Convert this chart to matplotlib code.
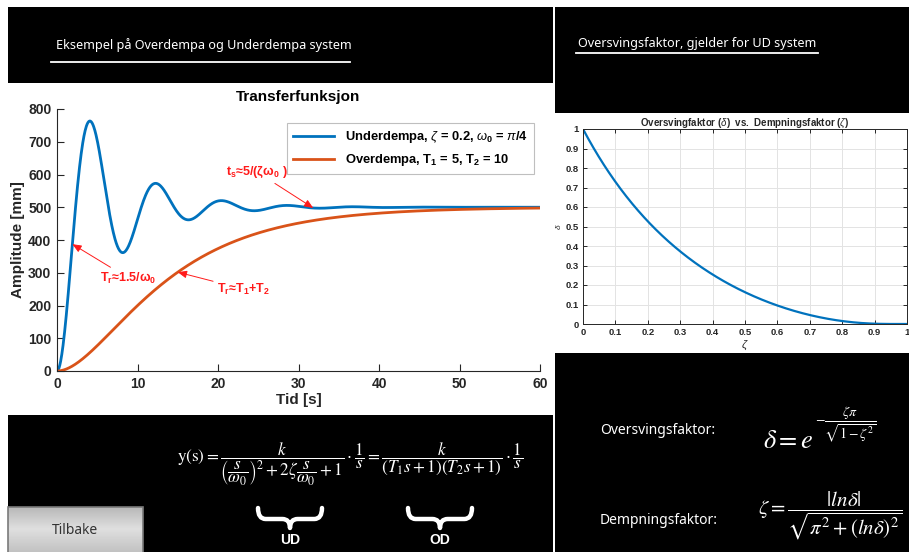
import numpy as np
import matplotlib
matplotlib.use("Agg")
import matplotlib.pyplot as plt
from matplotlib.patches import Rectangle, PathPatch
from matplotlib.path import Path

# ---- model parameters (as stated in the legend / formulas) ----
k_gain = 500
zeta_ud = 0.2
omega0 = np.pi / 4
T1, T2 = 5, 10

# time axis and step responses
t = np.linspace(0, 60, 1201)
sigma = zeta_ud * omega0
omega_d = omega0 * np.sqrt(1 - zeta_ud ** 2)
y_ud = k_gain * (1 - np.exp(-sigma * t) * (np.cos(omega_d * t) + sigma / omega_d * np.sin(omega_d * t)))
y_od = k_gain * (1 - (T1 * np.exp(-t / T1) - T2 * np.exp(-t / T2)) / (T1 - T2))

# overshoot factor vs damping factor
zeta_axis = np.linspace(0, 1, 501)
with np.errstate(divide="ignore", invalid="ignore"):
    delta = np.where(zeta_axis < 1,
                     np.exp(-zeta_axis * np.pi / np.sqrt(np.clip(1 - zeta_axis ** 2, 1e-12, None))),
                     0.0)

# characteristic times marked on the response plot
t_rise_ud = 1.5 / omega0
t_rise_od = T1 + T2
t_settle = 5 / (zeta_ud * omega0)

x_ticks_left = [0, 10, 20, 30, 40, 50, 60]
y_ticks_left = [0, 100, 200, 300, 400, 500, 600, 700, 800]
ticks_right = [0, 0.1, 0.2, 0.3, 0.4, 0.5, 0.6, 0.7, 0.8, 0.9, 1]
tick_labels_right = ["0", "0.1", "0.2", "0.3", "0.4", "0.5", "0.6", "0.7", "0.8", "0.9", "1"]

BLUE = "#0072BD"
ORANGE = "#D95319"
AXC = "#262626"

plt.rcParams["font.family"] = ["Liberation Sans", "DejaVu Sans"]
plt.rcParams["mathtext.fontset"] = "custom"
plt.rcParams["mathtext.rm"] = "Liberation Sans"
plt.rcParams["mathtext.it"] = "Liberation Sans:italic"
plt.rcParams["mathtext.bf"] = "Liberation Sans:bold"

W, H = 909, 552
fig = plt.figure(figsize=(W / 100, H / 100), dpi=100)
fig.patch.set_facecolor("white")

# ---- background layer in pixel coordinates ----
bg = fig.add_axes([0, 0, 1, 1], zorder=0)
bg.set_xlim(0, W)
bg.set_ylim(H, 0)
bg.axis("off")

for (x0, y0, x1, y1) in [(8, 7, 553, 83), (8, 415, 553, 552),
                         (555, 7, 909, 113), (555, 353, 909, 552)]:
    bg.add_patch(Rectangle((x0, y0), x1 - x0, y1 - y0, facecolor="black", edgecolor="none"))

ui_font = ["Noto Sans", "DejaVu Sans"]
bg.text(56, 45, "Eksempel på Overdempa og Underdempa system", color="white",
        fontsize=9.1, family=ui_font, va="center", ha="left")
bg.plot([51, 350], [62, 62], color="white", lw=1.3)
bg.text(578, 43, "Oversvingsfaktor, gjelder for UD system", color="white",
        fontsize=9.1, family=ui_font, va="center", ha="left")
bg.plot([576, 818], [53, 53], color="white", lw=1.3)

# transfer function
bg.text(350, 464,
        r"$\mathrm{y(s)} = \dfrac{k}{\left(\dfrac{s}{\omega_0}\right)^2+2\zeta\dfrac{s}{\omega_0}+1}\cdot\dfrac{1}{s}"
        r" = \dfrac{k}{(T_1s+1)(T_2s+1)}\cdot\dfrac{1}{s}$",
        color="white", fontsize=12.3, ha="center", va="center", math_fontfamily="stix")


def brace(xc, width, ytop, height):
    x0, x1 = xc - width / 2, xc + width / 2
    ym = ytop + height * 0.55
    q = width * 0.12
    verts = [(x0, ytop), (x0, ym), (x0 + q, ym),
             (xc - q, ym), (xc, ym), (xc, ytop + height),
             (xc, ym), (xc + q, ym),
             (x1 - q, ym), (x1, ym), (x1, ytop)]
    codes = [Path.MOVETO, Path.CURVE3, Path.CURVE3,
             Path.LINETO, Path.CURVE3, Path.CURVE3,
             Path.CURVE3, Path.CURVE3,
             Path.LINETO, Path.CURVE3, Path.CURVE3]
    bg.add_patch(PathPatch(Path(verts, codes), facecolor="none", edgecolor="white",
                           lw=3.2, capstyle="round", joinstyle="round"))


brace(290, 64, 508, 20)
brace(440, 64, 508, 20)
bg.text(290, 540, "UD", color="white", fontsize=10, fontweight="bold", ha="center", va="center")
bg.text(440, 540, "OD", color="white", fontsize=10, fontweight="bold", ha="center", va="center")

# back button with a soft vertical gradient
grad = np.concatenate([np.linspace(0.72, 0.87, 22), np.linspace(0.87, 0.76, 23)])
bg.imshow(np.repeat(grad[:, None], 4, axis=1), cmap="gray", vmin=0, vmax=1,
          extent=(8, 143, 552, 507), aspect="auto", zorder=2)
bg.add_patch(Rectangle((8, 507), 135, 46, facecolor="none", edgecolor="#7a7a7a", lw=1.2, zorder=3))
bg.text(75.5, 530, "Tilbake", color="#333333", fontsize=10, family=ui_font,
        ha="center", va="center", zorder=4)
bg.set_xlim(0, W)
bg.set_ylim(H, 0)

# right-hand formulas
bg.text(600, 430, "Oversvingsfaktor:", color="white", fontsize=10, family=ui_font, va="center")
bg.text(600, 521, "Dempningsfaktor:", color="white", fontsize=10, family=ui_font, va="center")
bg.text(763, 441, r"$\delta = e$", color="white",
        fontsize=19, ha="left", va="center", math_fontfamily="stix")
bg.text(815, 424, r"$-\dfrac{\zeta\pi}{\sqrt{1-\zeta^2}}$", color="white",
        fontsize=10, ha="left", va="center", math_fontfamily="stix")
bg.text(758, 516, r"$\zeta = \dfrac{|ln\delta|}{\sqrt{\pi^2+(ln\delta)^2}}$", color="white",
        fontsize=15, ha="left", va="center", math_fontfamily="stix")

# ---- step response chart ----
ax = fig.add_axes([57 / W, (H - 371) / H, 483 / W, 262 / H], zorder=1)
ax.plot(t, y_ud, color=BLUE, lw=2, label=r"Underdempa, $\zeta$ = 0.2, $\omega_\mathbf{0}$ = $\pi$/4")
ax.plot(t, y_od, color=ORANGE, lw=2, label=r"Overdempa, T$_\mathbf{1}$ = 5, T$_\mathbf{2}$ = 10")
ax.set_xlim(0, 60)
ax.set_ylim(0, 800)
ax.set_xticks(x_ticks_left)
ax.set_yticks(y_ticks_left)
for s in ["top", "right"]:
    ax.spines[s].set_visible(False)
for s in ["left", "bottom"]:
    ax.spines[s].set_color(AXC)
    ax.spines[s].set_linewidth(0.8)
ax.tick_params(direction="in", length=5, width=0.8, colors=AXC, labelsize=10, pad=4)
for lab in ax.get_xticklabels() + ax.get_yticklabels():
    lab.set_fontweight("bold")
ax.set_xlabel("Tid [s]", fontsize=11, fontweight="bold", color=AXC, labelpad=2)
ax.set_ylabel("Amplitude [mm]", fontsize=11, fontweight="bold", color=AXC, labelpad=2)
ax.set_title("Transferfunksjon", fontsize=11, fontweight="bold", color="black", pad=6)
leg = ax.legend(loc="upper right", bbox_to_anchor=(1.0, 0.97),
                prop={"weight": "bold", "size": 9.3}, frameon=True, fancybox=False,
                edgecolor="#b0b0b0", handlelength=3.2, borderpad=0.45, labelspacing=0.55)
leg.get_frame().set_linewidth(0.8)

arrow_kw = dict(arrowstyle="-|>,head_length=0.6,head_width=0.25", color="#ff1a1a", lw=0.7,
                shrinkA=1, shrinkB=0)
y_tr = np.interp(t_rise_ud, t, y_ud)
ax.annotate(r"T$_\mathbf{r}$≈1.5/ω$_\mathbf{0}$", xy=(t_rise_ud, y_tr), xytext=(5.4, 283),
            color="#ff1a1a", fontsize=9, fontweight="bold", ha="left", va="center",
            arrowprops=arrow_kw)
ax.annotate(r"T$_\mathbf{r}$≈T$_\mathbf{1}$+T$_\mathbf{2}$",
            xy=(t_rise_od, np.interp(t_rise_od, t, y_od)), xytext=(19.9, 250),
            color="#ff1a1a", fontsize=9, fontweight="bold", ha="left", va="center",
            arrowprops=arrow_kw)
ax.annotate(r"t$_\mathbf{s}$≈5/(ζω$_\mathbf{0}$ )",
            xy=(t_settle, np.interp(t_settle, t, y_ud)), xytext=(21.0, 608),
            color="#ff1a1a", fontsize=9, fontweight="bold", ha="left", va="center",
            arrowprops=arrow_kw)

# ---- overshoot chart ----
ax2 = fig.add_axes([583 / W, (H - 324) / H, 324 / W, 195 / H], zorder=1)
ax2.plot(zeta_axis, delta, color=BLUE, lw=1.6)
ax2.set_xlim(0, 1)
ax2.set_ylim(0, 1)
ax2.set_xticks(ticks_right)
ax2.set_xticklabels(tick_labels_right)
ax2.set_yticks(ticks_right)
ax2.set_yticklabels(tick_labels_right)
ax2.grid(True, color="#e3e3e3", lw=0.7)
ax2.set_axisbelow(True)
for s in ax2.spines.values():
    s.set_color(AXC)
    s.set_linewidth(0.7)
ax2.tick_params(direction="in", length=3, width=0.7, colors=AXC, labelsize=6.8, pad=3,
                top=True, right=True)
for lab in ax2.get_xticklabels() + ax2.get_yticklabels():
    lab.set_fontweight("bold")
ax2.set_title(r"Oversvingfaktor ($\delta$)  vs.  Dempningsfaktor ($\zeta$)", fontsize=7,
              fontweight="bold", color=AXC, pad=2)
ax2.set_xlabel(r"$\zeta$", fontsize=8, color=AXC, labelpad=1)
ax2.set_ylabel(r"$\delta$", fontsize=6, color=AXC, labelpad=2)

fig.savefig("out.png", dpi=100, facecolor="white")
